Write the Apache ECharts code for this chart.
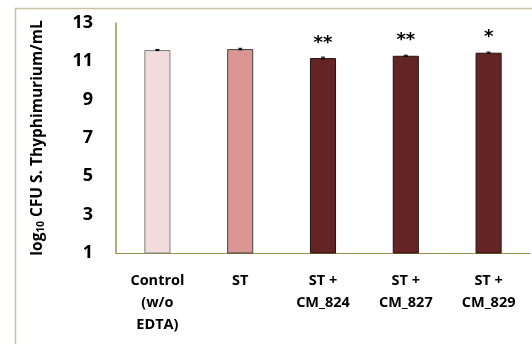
<!DOCTYPE html>
<html><head><meta charset="utf-8">
<script src="https://cdn.jsdelivr.net/npm/echarts@6/dist/echarts.min.js"></script>
<style>html,body{margin:0;padding:0;background:#fff}#c{width:532px;height:344px}</style>
</head><body><div id="c"></div>
<script>
const categories = ['Control\n(w/o\nEDTA)', 'ST', 'ST +\nCM_824', 'ST +\nCM_827', 'ST +\nCM_829'];
const values = [11.59, 11.64, 11.17, 11.29, 11.45];
const errors = [0.03, 0.04, 0.05, 0.03, 0.03];
const significance = ['', '', '**', '**', '*'];
const yTicks = [1, 3, 5, 7, 9, 11, 13];
const fills = ['#f2dcdb', '#d99694', '#632523', '#632523', '#632523'];
const borders = ['#808080', '#404040', '#2a1010', '#2a1010', '#2a1010'];

const chart = echarts.init(document.getElementById('c'), null, {renderer: 'canvas'});
const font = 'Open Sans';
chart.setOption({
  animation: false,
  backgroundColor: '#fff',
  graphic: [{
    type: 'rect', shape: {x: 15.5, y: 8.5, width: 700, height: 500},
    style: {fill: 'none', stroke: '#c9c39c', lineWidth: 1.5}, z: -1
  }],
  grid: {left: 116, right: 2, top: 23, bottom: 91},
  xAxis: {
    type: 'category', data: categories,
    axisLine: {lineStyle: {color: '#9c8f4e', width: 1}},
    axisTick: {show: false},
    axisLabel: {fontFamily: font, fontWeight: 'bold', fontSize: 14.5, color: '#000', lineHeight: 22, margin: 17, interval: 0}
  },
  yAxis: {
    type: 'value', min: 1, max: 13,
    axisLine: {show: true, lineStyle: {color: '#9c8f4e', width: 1.5}},
    axisTick: {show: false},
    splitLine: {show: false},
    axisLabel: {customValues: yTicks, fontFamily: font, fontWeight: 'bold', fontSize: 18, color: '#000', margin: 23},
    name: '{a|log}{s|10}{a| CFU S. Thyphimurium/mL}',
    nameLocation: 'middle', nameGap: 70, nameRotate: 90,
    nameTextStyle: {
      rich: {
        a: {fontFamily: font, fontWeight: 'bold', fontSize: 15.5, color: '#000'},
        s: {fontFamily: font, fontWeight: 'bold', fontSize: 10, color: '#000', verticalAlign: 'bottom', padding: [7, 0, 0, 0]}
      }
    }
  },
  series: [{
    type: 'bar', barWidth: '31.5%',
    data: values.map((v, i) => ({value: v, itemStyle: {color: fills[i], borderColor: borders[i], borderWidth: 1}})),
    label: {
      show: true, position: 'top', distance: 6,
      formatter: p => significance[p.dataIndex],
      fontFamily: 'DejaVu Sans', fontWeight: 'bold', fontSize: 18, color: '#000'
    }
  }, {
    type: 'custom',
    renderItem: (params, api) => {
      const i = api.value(0);
      const v = api.value(1), e = api.value(2);
      const top = api.coord([i, v + e]);
      const bot = api.coord([i, v - e]);
      return {type: 'group', children: [
        {type: 'line', shape: {x1: top[0], y1: top[1], x2: bot[0], y2: bot[1]}, style: {stroke: '#000', lineWidth: 1}},
        {type: 'line', shape: {x1: top[0] - 2, y1: top[1], x2: top[0] + 2, y2: top[1]}, style: {stroke: '#000', lineWidth: 1}},
        {type: 'line', shape: {x1: bot[0] - 2, y1: bot[1], x2: bot[0] + 2, y2: bot[1]}, style: {stroke: '#000', lineWidth: 1}}
      ]};
    },
    data: values.map((v, i) => [i, v, errors[i]]),
    z: 5
  }]
});
</script></body></html>
